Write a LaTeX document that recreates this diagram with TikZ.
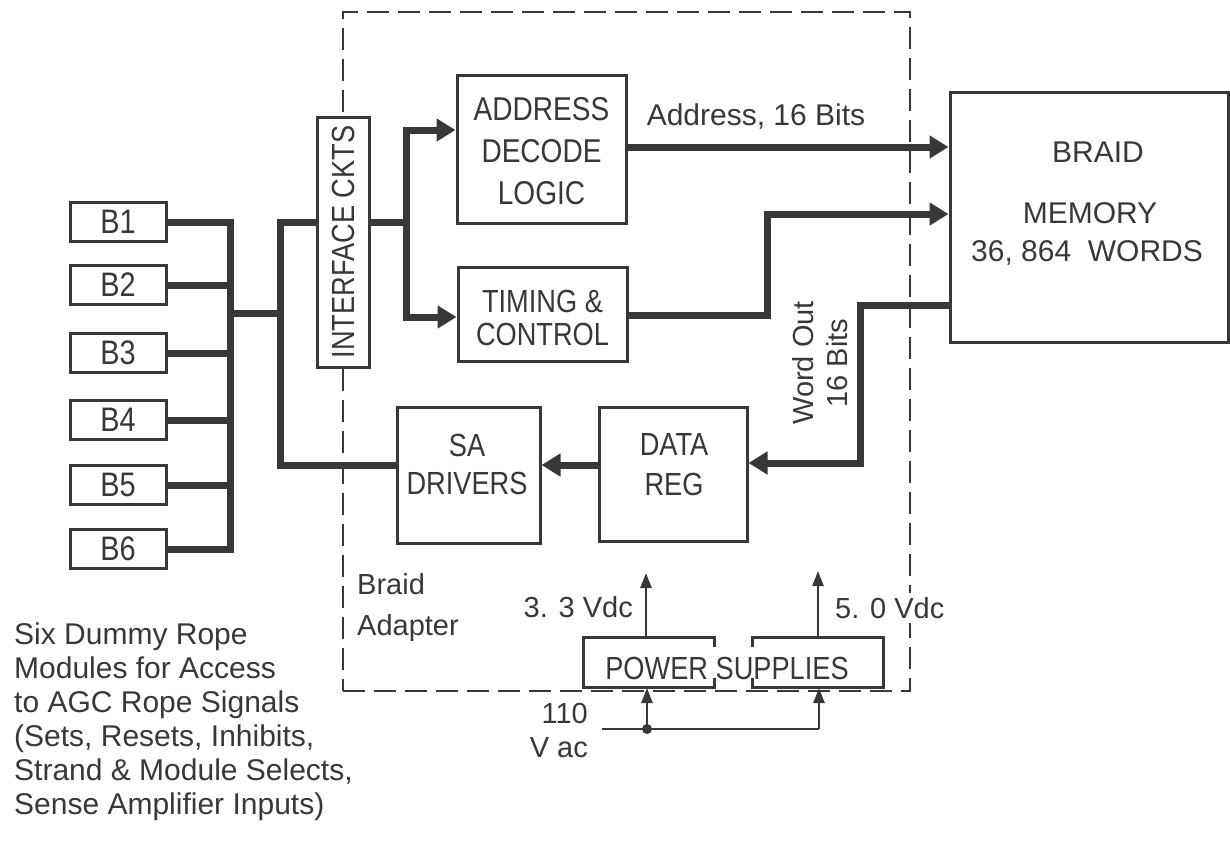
\documentclass[tikz,border=0pt]{standalone}
\usepackage{fontspec}
\setmainfont{Liberation Sans}
\newfontfamily\narrowfont{Liberation Sans}[FakeStretch=0.85]
\usetikzlibrary{arrows.meta}
\definecolor{ink}{HTML}{383838}
\begin{document}
\begin{tikzpicture}[x=1pt,y=-1pt,
  box/.style={draw=ink, line width=3pt, fill=white, inner sep=0pt},
  bus/.style={draw=ink, line width=7pt},
  busarrow/.style={bus, -{Triangle[length=19pt,width=22pt]}},
  thinline/.style={draw=ink, line width=2.5pt},
  thinarrow/.style={thinline, -{Triangle[length=15pt,width=11pt]}},
  lbl/.style={text=ink, font=\narrowfont\fontsize{32}{41}\selectfont, align=center, inner sep=0pt},
  txt/.style={text=ink, font=\fontsize{29}{34}\selectfont, inner sep=0pt},
  adapterline/.style={draw=ink, line width=2pt, dash pattern=on 22pt off 9pt},
]
\useasboundingbox[fill=white] (0,0) rectangle (1230,849);

% braid adapter outline
\node[adapterline, minimum width=567pt, minimum height=679pt, inner sep=0pt] (adapter) at (626.5,351.5) {};

% helper coordinates
\coordinate (j1) at (230,313);
\coordinate (j2) at (280,313);
\coordinate (k1) at (280,222);
\coordinate (k2) at (280,465);
\coordinate (k3) at (406,222);
\coordinate (k4) at (406,130);
\coordinate (k5) at (406,317);
\coordinate (t1) at (767,315);
\coordinate (t2) at (767,214);
\coordinate (w1) at (860,305);
\coordinate (w2) at (860,463);

% B modules
\foreach \i/\y in {1/222,2/285,3/353,4/420,5/485,6/549}{
  \node[box, minimum width=96pt, minimum height=39pt] (B\i) at (118,\y) {};
}

% connectors (drawn before boxes)
\draw[bus] (B1.east) -- (B1.east -| j1) -- (B6.east -| j1) -- (B6.east);
\foreach \i in {2,3,4,5}{ \draw[bus] (B\i.east) -- (B\i.east -| j1); }
\draw[bus] (j1) -- (j2);

\node[box, minimum width=52pt, minimum height=250pt] (iface) at (343,242) {};
\node[box, minimum width=169pt, minimum height=148pt] (addr) at (541.5,149) {};
\node[box, minimum width=169pt, minimum height=94pt] (timing) at (542.5,314) {};
\node[box, minimum width=143pt, minimum height=136pt] (sa) at (468.5,475) {};
\node[box, minimum width=148pt, minimum height=134pt] (dreg) at (673,474) {};
\node[box, minimum width=278pt, minimum height=250pt] (mem) at (1089,217) {};

\draw[bus] (iface.west |- k1) -- (k1) -- (k2) -- (sa.west |- k2);
\draw[bus] (iface.east |- k1) -- (k3);
\draw[busarrow] (k3) -- (k4) -- (addr.west |- k4);
\draw[busarrow] (k3) -- (k5) -- (timing.west |- k5);
\draw[busarrow] (addr.east |- 0,147) -- (mem.west |- 0,147);
\draw[busarrow] (timing.east |- t1) -- (t1) -- (t2) -- (mem.west |- t2);
\draw[busarrow] (mem.west |- w1) -- (w1) -- (w2) -- (dreg.east |- w2);
\draw[busarrow] (dreg.west |- 0,465) -- (sa.east |- 0,465);

% box labels
\foreach \i in {1,...,6}{ \node[lbl, font=\narrowfont\fontsize{34}{41}\selectfont] at (B\i) {B\i}; }
\node[lbl, rotate=90] at (iface) {INTERFACE CKTS};
\node[lbl, font=\narrowfont\fontsize{33}{42}\selectfont] at (541.5,151) {ADDRESS\\DECODE\\LOGIC};
\node[lbl, font=\narrowfont\fontsize{32}{33}\selectfont] at (542.5,318) {TIMING \&\\CONTROL};
\node[lbl, font=\narrowfont\fontsize{32}{38}\selectfont] at (467,464) {SA\\DRIVERS};
\node[lbl, font=\narrowfont\fontsize{32}{40}\selectfont] at (674,465) {DATA\\REG};

\node[txt, font=\fontsize{30}{34}\selectfont] at (1098,152) {BRAID};
\node[txt, font=\fontsize{30}{34}\selectfont] at (1090,213) {MEMORY};
\node[txt, font=\fontsize{30}{34}\selectfont] at (1087,253) {36, 864 \ WORDS};

\node[txt, font=\fontsize{30}{34}\selectfont] at (756,117) {Address, 16 Bits};
\node[txt, rotate=90, align=center] at (820,363) {Word Out\\16 Bits};

\node[txt, font=\fontsize{29}{41}\selectfont, align=left, anchor=west] at (357,607) {Braid\\Adapter};

% power supplies
\draw[draw=ink, line width=3pt] (714,647) -- (714,637) -- (583,637) -- (583,687) -- (714,687) -- (714,678);
\draw[draw=ink, line width=3pt] (752,647) -- (752,637) -- (883,637) -- (883,687) -- (752,687) -- (752,678);
\node[lbl] (ps) at (727,668) {POWER SUPPLIES};

\coordinate (v33) at (646,637);
\coordinate (v50) at (818,637);
\draw[thinarrow] (v33) -- (646,573);
\draw[thinarrow] (v50) -- (818,571);
\node[txt] (l33) [anchor=east] at (633,607) {3. 3 Vdc};
\node[txt, anchor=west, fill=white, inner ysep=4pt, inner xsep=0pt] (l50) at (835,608) {5. 0 Vdc};

\coordinate (ac) at (602,729);
\coordinate (dot) at (647,729);
\coordinate (corner) at (819,729);
\draw[thinline] (ac) -- (corner);
\draw[thinarrow] (dot) -- (647,688);
\draw[thinarrow] (corner) -- (819,688);
\fill[ink] (dot) circle (5pt);
\node[txt, align=right, anchor=east] (vac) at (588,731) {110\\V ac};

% note
\node[txt, font=\fontsize{30}{34}\selectfont, align=left, anchor=north west] (note) at (14,623)
  {Six Dummy Rope\\Modules for Access\\to AGC Rope Signals\\(Sets, Resets, Inhibits,\\Strand \& Module Selects,\\Sense Amplifier Inputs)};
\end{tikzpicture}
\end{document}
